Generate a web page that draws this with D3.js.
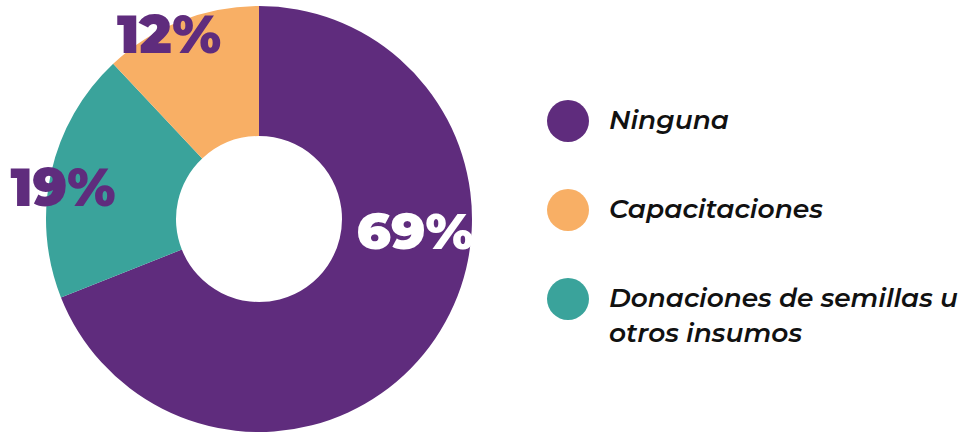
<!DOCTYPE html>
<html>
<head>
<meta charset="utf-8">
<script src="https://cdn.jsdelivr.net/npm/d3@7"></script>
<style>
  html, body { margin: 0; padding: 0; background: #fff; }
  svg { display: block; }
</style>
</head>
<body>
<svg id="chart" width="965" height="433"></svg>
<script>
// Categories in clockwise order around the ring, starting at 12 o'clock
const categories = ["Ninguna", "Donaciones de semillas u otros insumos", "Capacitaciones"];
const values = [69, 19, 12];
const colors = ["#5f2c7d", "#3aa39b", "#f8af65"];

// Legend order and wrapped lines
const legendOrder = ["Ninguna", "Capacitaciones", "Donaciones de semillas u otros insumos"];
const legendLines = [["Ninguna"], ["Capacitaciones"], ["Donaciones de semillas u", "otros insumos"]];

const svg = d3.select("#chart");
const cx = 259, cy = 219, outerR = 213, innerR = 83;

const color = d3.scaleOrdinal().domain(categories).range(colors);
const pie = d3.pie().sort(null).value(d => d.value);
const arc = d3.arc().innerRadius(innerR).outerRadius(outerR);

const data = categories.map((c, i) => ({ name: c, value: values[i] }));
const arcs = pie(data);

const g = svg.append("g").attr("transform", `translate(${cx},${cy})`);
g.selectAll("path.slice")
  .data(arcs)
  .join("path")
  .attr("class", "slice")
  .attr("d", arc)
  .attr("fill", d => color(d.data.name));

// Percentage labels: offsets from the ring centre, text colour, size and drawn width
const labelStyle = {
  "Ninguna": { dx: 156, dy: 30, fill: "#ffffff", size: 50, w: 117 },
  "Donaciones de semillas u otros insumos": { dx: -196, dy: -13, fill: "#5f2c7d", size: 54, w: 105 },
  "Capacitaciones": { dx: -90, dy: -166, fill: "#5f2c7d", size: 54, w: 104 }
};

g.selectAll("text.pct")
  .data(arcs)
  .join("text")
  .attr("class", "pct")
  .attr("x", d => labelStyle[d.data.name].dx)
  .attr("y", d => labelStyle[d.data.name].dy)
  .attr("text-anchor", "middle")
  .attr("font-family", "Montserrat, Lato, 'Open Sans', sans-serif")
  .attr("font-weight", 900)
  .attr("font-size", d => labelStyle[d.data.name].size)
  .attr("textLength", d => labelStyle[d.data.name].w)
  .attr("lengthAdjust", "spacingAndGlyphs")
  .attr("fill", d => labelStyle[d.data.name].fill)
  .text(d => d.data.value + "%");

// Legend
const legendY = d3.scalePoint().domain(legendOrder).range([121, 299]);
const lineWidths = { "Ninguna": 120, "Capacitaciones": 214, "Donaciones de semillas u": 349, "otros insumos": 193 };

const leg = svg.append("g");
const items = leg.selectAll("g.item")
  .data(legendOrder)
  .join("g")
  .attr("class", "item")
  .attr("transform", d => `translate(0,${legendY(d)})`);

items.append("circle")
  .attr("cx", 568)
  .attr("cy", 0)
  .attr("r", 21)
  .attr("fill", d => color(d));

items.each(function(d, i) {
  const t = d3.select(this).append("text")
    .attr("font-family", "Montserrat, 'Open Sans', sans-serif")
    .attr("font-style", "italic")
    .attr("font-weight", 600)
    .attr("font-size", 25)
    .attr("fill", "#111111");
  legendLines[i].forEach((line, j) => {
    t.append("tspan")
      .attr("x", 609)
      .attr("y", 8 + j * 35)
      .attr("textLength", lineWidths[line])
      .attr("lengthAdjust", "spacingAndGlyphs")
      .text(line);
  });
});
</script>
</body>
</html>
